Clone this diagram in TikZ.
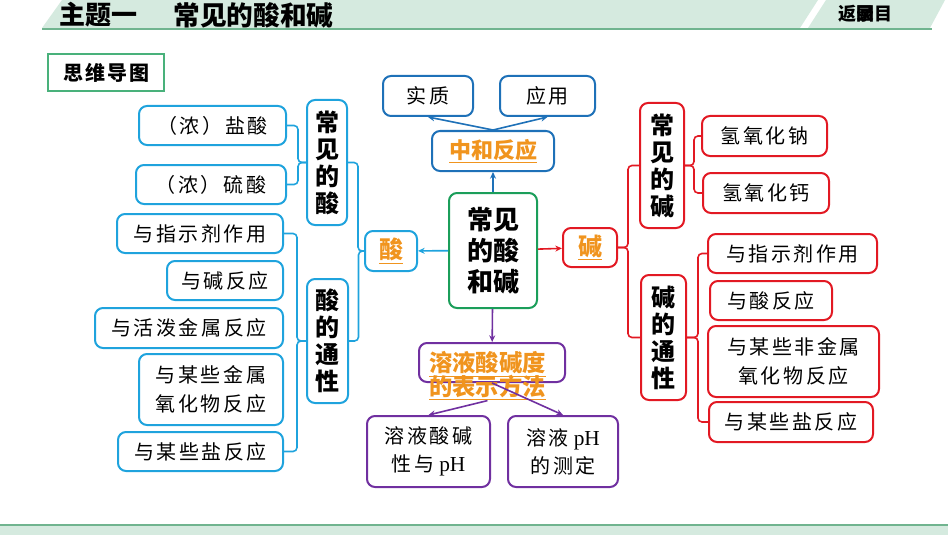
\documentclass[tikz,border=0pt]{standalone}
\usepackage{fontspec}
\setmainfont{Liberation Serif}
\newfontfamily\cjk{Noto Sans CJK SC}
\newfontfamily\cjkleaf[LetterSpace=13]{Noto Sans CJK SC}
\newfontfamily\cjkmap[LetterSpace=10]{Noto Sans CJK SC}
\usetikzlibrary{arrows.meta}
\definecolor{acidc}{RGB}{31,163,221}
\definecolor{zhc}{RGB}{30,113,184}
\definecolor{mainc}{RGB}{27,158,90}
\definecolor{basec}{RGB}{226,25,35}
\definecolor{phc}{RGB}{112,48,160}
\definecolor{hotc}{RGB}{240,148,30}
\definecolor{bandc}{RGB}{213,234,223}
\definecolor{bandline}{RGB}{112,180,143}
\newcommand{\tightlines}{\lineskiplimit=-20pt\relax}
\newcommand{\phtxt}{{\fontsize{16pt}{21pt}\selectfont pH}}
\tikzset{
  sz/.style 2 args={minimum width=#1*0.75pt,minimum height=#2*0.75pt},
  box/.style={draw,rounded corners=6pt,line width=1.5pt,align=center,inner sep=0pt},
  leaf/.style={box,font=\cjkleaf\fontsize{15pt}{21.4pt}\selectfont},
  lbl/.style={box,font=\cjk\bfseries\fontsize{18pt}{20.25pt}\selectfont},
  hot/.style={box,text=hotc,font=\cjk\bfseries\fontsize{18pt}{18pt}\selectfont},
  tip/.style={-{Stealth[length=5pt,width=4.5pt]}},
  link/.style={line width=1.2pt,rounded corners=3pt}}

\begin{document}
\begin{tikzpicture}[x=0.75pt,y=-0.75pt]
\useasboundingbox (0,0) rectangle (950,535);
\fill[bandc] (42,28) -- (62,0) -- (818,0) -- (800,28) -- cycle;
\fill[bandc] (808,28) -- (826,0) -- (945,0) -- (930,28) -- cycle;
\draw[bandline,line width=1.5pt] (42,29) -- (932,29);
\fill[bandc] (0,525) rectangle (948,535);
\draw[bandline,line width=1.5pt] (0,524.5) -- (948,524.5);
\node[font=\cjk\bfseries\fontsize{19.5pt}{19.5pt}\selectfont] (ttl) at (98.5,15) {主题一};
\node[font=\cjk\bfseries\fontsize{20pt}{20pt}\selectfont] (ttlb) at (253.5,15) {常见的酸和碱};
\node[font=\cjk\bfseries\fontsize{13.5pt}{13.5pt}\selectfont] (back) at (865.5,14) {返\rlap{回}录目};
\node[draw=mainc!80,line width=1.2pt,sz={116}{37},font=\cjkmap\bfseries\fontsize{15pt}{15pt}\selectfont] (map) at (106,72.5) {思维导图};

\node[box,draw=mainc,sz={88}{115},font=\cjk\bfseries\fontsize{19.5pt}{23.25pt}\selectfont] (main) at (493,250.5) {常见\\的酸\\和碱};

\node[hot,draw=zhc,sz={122}{40},font=\cjk\bfseries\fontsize{16.5pt}{16.5pt}\selectfont] (zh) at (493,151) {\underline{中和反应}};
\node[leaf,draw=zhc,sz={90}{40}] (shizhi) at (428,96) {实质};
\node[leaf,draw=zhc,sz={95}{40}] (yy) at (547.5,96) {应用};

\node[hot,draw=acidc,sz={52}{40}] (suan) at (391,251) {\underline{酸}};
\node[lbl,draw=acidc,sz={40}{125}] (csuan) at (327,162.5) {常\\见\\的\\酸};
\node[lbl,draw=acidc,sz={41}{124}] (stx) at (327.5,341) {酸\\的\\通\\性};
\node[leaf,draw=acidc,sz={147}{39}] (hcl) at (212.5,125.5) {（浓）盐酸};
\node[leaf,draw=acidc,sz={150}{39}] (hso) at (211,184.5) {（浓）硫酸};
\node[leaf,draw=acidc,sz={166}{39}] (szsj) at (200,233.5) {与指示剂作用};
\node[leaf,draw=acidc,sz={116}{39}] (sjian) at (225,280.5) {与碱反应};
\node[leaf,draw=acidc,sz={188}{40}] (shuo) at (189,328) {与活泼金属反应};
\node[leaf,draw=acidc,sz={144}{71}] (syh) at (211,389.5) {与某些金属\\氧化物反应};
\node[leaf,draw=acidc,sz={165}{39}] (syan) at (200.5,451.5) {与某些盐反应};

\node[hot,draw=basec,sz={54}{39}] (jian) at (590,247.5) {\underline{碱}};
\node[lbl,draw=basec,sz={44}{125}] (cjian) at (662,165.5) {常\\见\\的\\碱};
\node[lbl,draw=basec,sz={45}{125}] (jtx) at (663.5,337.5) {碱\\的\\通\\性};
\node[leaf,draw=basec,sz={125}{40}] (naoh) at (764.5,136) {氢氧化钠};
\node[leaf,draw=basec,sz={126}{40}] (caoh) at (766,193) {氢氧化钙};
\node[leaf,draw=basec,sz={169}{39}] (jzsj) at (792.5,253.5) {与指示剂作用};
\node[leaf,draw=basec,sz={122}{39}] (jsuan) at (771,300.5) {与酸反应};
\node[leaf,draw=basec,sz={171}{71}] (jfei) at (793.5,361.5) {与某些非金属\\氧化物反应};
\node[leaf,draw=basec,sz={164}{40}] (jyan) at (791,422) {与某些盐反应};

\node[box,draw=phc,sz={146}{39}] (ph) at (492,362.5) {};
\node[leaf,draw=phc,sz={123}{71},font=\fontsize{15pt}{21pt}\selectfont] (phl) at (428.5,451.5) {{\cjkleaf 溶液酸碱}\\{\cjkleaf 性与} \phtxt};
\node[leaf,draw=phc,sz={110}{71},font=\fontsize{15pt}{21pt}\selectfont] (phr) at (563,451.5) {{\cjkleaf 溶液} \phtxt\\{\cjkleaf 的测定}};

\draw[tip,zhc,line width=1.2pt] (main) -- (zh);
\draw[tip,zhc,line width=1.2pt] (zh.north) -- (shizhi.south);
\draw[tip,zhc,line width=1.2pt] (zh.north) -- (yy.south);
\draw[tip,acidc,line width=1.2pt] (main) -- (suan);
\draw[tip,basec,line width=1.2pt] (main) -- (jian);
\draw[tip,phc,line width=1.2pt] (main) -- (ph);

\node[align=center,text=hotc,inner sep=0pt,font={\cjk\bfseries\fontsize{17.5pt}{17.6pt}\selectfont\tightlines}] (phtxt) at (487.5,376) {\underline{溶液酸碱度}\\\underline{的表示方法}};
\draw[tip,phc,line width=1.2pt] (phtxt.south) -- (phl.north);
\draw[tip,phc,line width=1.2pt] (ph.south) -- (phr.north);

\draw[link,acidc] (hcl.east) -- ++(11,0) |- (csuan.west);
\draw[link,acidc] (hso.east) -- ++(11,0) |- (csuan.west);
\draw[link,acidc] (szsj.east) -- ++(13,0) |- (stx.west);
\draw[link,acidc] (syan.east) -- ++(13,0) |- (stx.west);
\draw[link,acidc] (csuan.east) -- ++(10,0) |- (suan.west);
\draw[link,acidc] (stx.east) -- ++(9.5,0) |- (suan.west);

\draw[link,basec] (jian.east) -- ++(10,0) |- (cjian.west);
\draw[link,basec] (jian.east) -- ++(10,0) |- (jtx.west);
\draw[link,basec] (cjian.east) -- ++(9,0) |- (naoh.west);
\draw[link,basec] (cjian.east) -- ++(9,0) |- (caoh.west);
\draw[link,basec] (jtx.east) -- ++(11,0) |- (jzsj.west);
\draw[link,basec] (jtx.east) -- ++(11,0) |- (jyan.west);
\end{tikzpicture}
\end{document}
